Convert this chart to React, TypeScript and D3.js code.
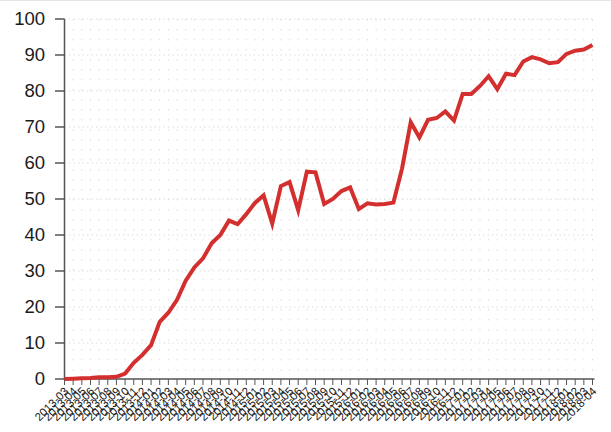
import React from "react";
import * as d3 from "d3";

const months: string[] = [
  "2013-03","2013-04","2013-05","2013-06","2013-07","2013-08","2013-09","2013-10","2013-11","2013-12",
  "2014-01","2014-02","2014-03","2014-04","2014-05","2014-06","2014-07","2014-08","2014-09","2014-10","2014-11","2014-12",
  "2015-01","2015-02","2015-03","2015-04","2015-05","2015-06","2015-07","2015-08","2015-09","2015-10","2015-11","2015-12",
  "2016-01","2016-02","2016-03","2016-04","2016-05","2016-06","2016-07","2016-08","2016-09","2016-10","2016-11","2016-12",
  "2017-01","2017-02","2017-03","2017-04","2017-05","2017-06","2017-07","2017-08","2017-09","2017-10","2017-11","2017-12",
  "2018-01","2018-02","2018-03","2018-04"
];

const values: number[] = [
  0, 0.1, 0.2, 0.3, 0.5, 0.5, 0.6, 1.5, 4.5, 6.7,
  9.4, 15.9, 18.4, 22, 27.3, 31, 33.5, 37.7, 40, 44, 43, 45.8,
  48.9, 51, 43.2, 53.6, 54.7, 46.9, 57.6, 57.4, 48.6, 50, 52.2, 53.2,
  47.2, 48.8, 48.5, 48.6, 49, 58.5, 71.3, 67.1, 72, 72.5, 74.3, 71.8,
  79.2, 79.2, 81.4, 84.1, 80.5, 84.8, 84.4, 88.2, 89.4, 88.8, 87.7, 88,
  90.3, 91.2, 91.5, 92.8
];

const yTicks: number[] = [0, 10, 20, 30, 40, 50, 60, 70, 80, 90, 100];

const W = 611;
const H = 432;
const left = 64.5;
const right = 592.5;
const top = 19;
const bottom = 379;

export default function App() {
  const x = d3.scalePoint<string>().domain(months).range([left, right]);
  const y = d3.scaleLinear().domain([0, 100]).range([bottom, top]);
  const line = d3
    .line<number>()
    .x((_, i) => x(months[i]) as number)
    .y((d) => y(d));
  const font = "'Liberation Sans', Arial, sans-serif";
  return (
    <div style={{ position: "absolute", left: 0, top: 0 }}>
      <svg width={W} height={H} style={{ display: "block", background: "#fff" }}>
        <line x1={0} x2={W} y1={0.5} y2={0.5} stroke="#e6e6e6" />
        <g>
          {months.map((m) => (
            <line
              key={"vg" + m}
              x1={x(m)}
              x2={x(m)}
              y1={top}
              y2={bottom}
              stroke="#dcdcdc"
              strokeWidth={1}
              strokeDasharray="1.5,8.5"
            />
          ))}
          {yTicks.slice(1).map((t) => (
            <line
              key={"hg" + t}
              x1={left}
              x2={right}
              y1={y(t)}
              y2={y(t)}
              stroke="#dcdcdc"
              strokeWidth={1}
              strokeDasharray="1.5,3"
            />
          ))}
        </g>
        <g>
          <line x1={left} x2={left} y1={top} y2={bottom} stroke="#555" strokeWidth={1.5} />
          {yTicks.map((t) => (
            <g key={"yt" + t}>
              <line x1={55} x2={left} y1={y(t)} y2={y(t)} stroke="#555" strokeWidth={1.5} />
              <text
                x={45}
                y={y(t)}
                dy="0.35em"
                textAnchor="end"
                fontFamily={font}
                fontSize={18.5}
                fill="#1a1a1a"
              >
                {t}
              </text>
            </g>
          ))}
        </g>
        <g>
          <line x1={left} x2={right + 2} y1={bottom} y2={bottom} stroke="#555" strokeWidth={1.5} />
          {months.map((m) => (
            <g key={"xt" + m}>
              <line x1={x(m)} x2={x(m)} y1={bottom} y2={bottom + 6} stroke="#555" strokeWidth={1} />
              <text
                transform={`translate(${(x(m) as number) + 2},${bottom + 10}) rotate(-45)`}
                textAnchor="end"
                dy="0.35em"
                fontFamily={font}
                fontSize={11.5}
                fill="#1a1a1a"
              >
                {m}
              </text>
            </g>
          ))}
        </g>
        <path
          d={line(values) || ""}
          fill="none"
          stroke="#d32f2f"
          strokeWidth={4}
          strokeLinejoin="miter"
        />
      </svg>
    </div>
  );
}
